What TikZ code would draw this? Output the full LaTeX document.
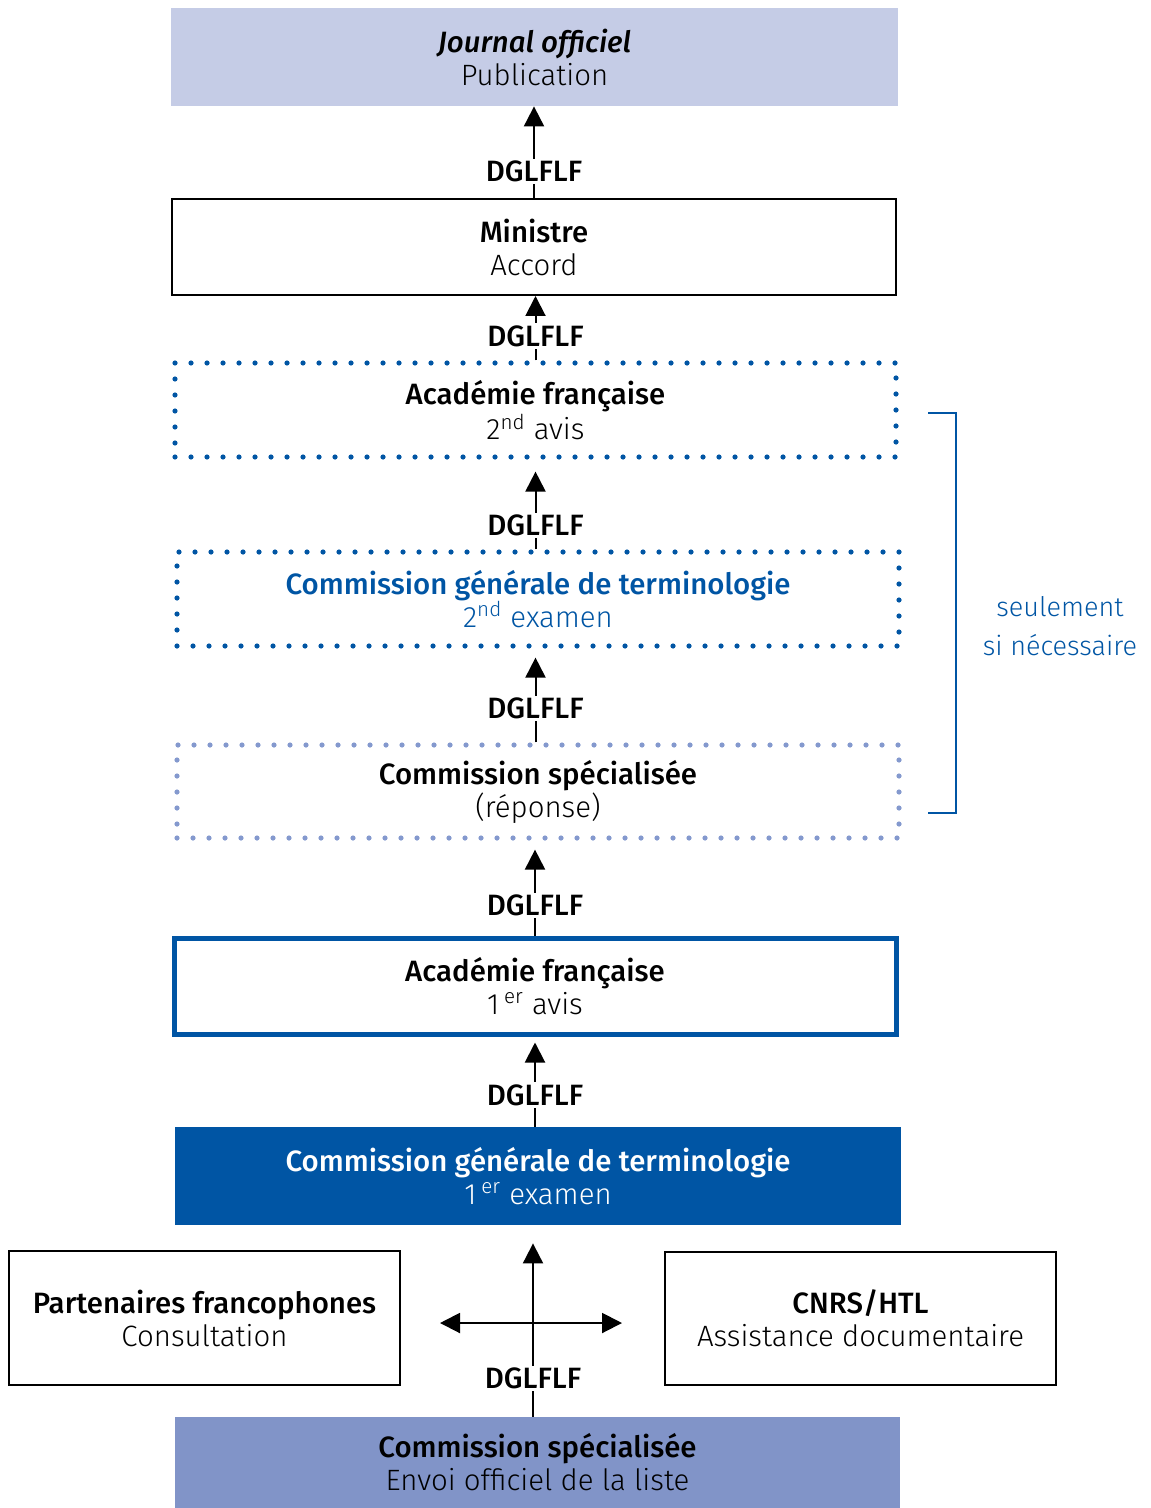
\documentclass[tikz,border=0pt]{standalone}
\usepackage{fontspec}
\setmainfont{Fira Sans Light}[BoldFont={Fira Sans Medium},ItalicFont={Fira Sans Light Italic},BoldItalicFont={Fira Sans Medium Italic}]
\usepackage{tikz}
\usetikzlibrary{arrows.meta}

\definecolor{bleu}{HTML}{0055A4}
\definecolor{lavande}{HTML}{C5CCE6}
\definecolor{mauve}{HTML}{8194C8}
\definecolor{pointille}{HTML}{8499CE}

\tikzset{
	boite/.style={align=center, inner sep=0pt, minimum width=#1, minimum height=48pt, font=\fontsize{14.7}{16.5}\selectfont},
	cadre/.style={draw=black, line width=1pt},
	pointilles/.style={draw=#1, line width=2.6pt, line cap=round, dash pattern=on 0pt off 8pt},
	fleche/.style={line width=1pt, -{Triangle[width=10pt,length=10pt]}},
	etiq/.style={fill=white, inner sep=1pt, font=\fontsize{14.7}{16.5}\selectfont\bfseries}
}

\begin{document}
\begin{tikzpicture}[x=0.5pt, y=-0.5pt]
		\useasboundingbox (0,0) rectangle (1150,1508);
		
		\node[boite=363.5pt, fill=lavande, minimum height=49pt] (jo) at (534.5,57) {\textbf{\textit{Journal officiel}}\\Publication};
		
		\node[boite=362pt, cadre] (min) at (534,247) {\textbf{Ministre}\\Accord};
		\draw[fleche] (min.north) -- node[etiq, pos=0.29]{DGLFLF} (min.north |- jo.south);
		
		\node[boite=360.5pt, minimum height=47pt, pointilles=bleu] (af2) at (535.5,410) {\textbf{Académie française}\\2\textsuperscript{nd} avis};
		\draw[fleche] (af2.north) -- node[etiq, pos=0.38]{DGLFLF} (af2.north |- min.south);
		
		\node[boite=361pt, minimum height=47pt, pointilles=bleu, text=bleu] (cgt2) at (538,599) {\textbf{Commission générale de terminologie}\\2\textsuperscript{nd} examen};
		\draw[fleche, shorten >=6pt] (cgt2.north -| af2) -- node[etiq, pos=0.27]{DGLFLF} (af2.south);
		
		\node[boite=361pt, minimum height=46.5pt, pointilles=pointille] (csr) at (538,791.5) {\textbf{Commission spécialisée}\\(réponse)};
		\draw[fleche, shorten >=4.5pt] (csr.north -| af2) -- node[etiq, pos=0.36]{DGLFLF} (cgt2.south -| af2);
		
		\node[boite=361pt, draw=bleu, line width=2.5pt] (af1) at (535,986) {\textbf{Académie française}\\1\,\textsuperscript{er} avis};
		\draw[fleche, shorten >=4.5pt] (af1.north) -- node[etiq, pos=0.32]{DGLFLF} (af1.north |- csr.south);
		
		\node[boite=363pt, minimum height=49pt, fill=bleu, text=white] (cgt1) at (538,1176) {\textbf{Commission générale de terminologie}\\1\,\textsuperscript{er} examen};
		\draw[fleche, shorten >=3pt] (cgt1.north -| af1) -- node[etiq, pos=0.35]{DGLFLF} (af1.south);
		
		\node[boite=195.5pt, minimum height=67pt, cadre] (part) at (204.5,1318) {\textbf{Partenaires francophones}\\Consultation};
		\node[boite=195.5pt, minimum height=66.5pt, cadre] (cnrs) at (860.5,1318.5) {\textbf{CNRS/HTL}\\Assistance documentaire};
		
		\node[boite=362.5pt, minimum height=45.5pt, fill=mauve] (csp) at (537.5,1462.5) {\textbf{Commission spécialisée}\\Envoi officiel de la liste};
		\draw[fleche, shorten >=9pt] (csp.north -| 533,0) -- node[etiq, pos=0.20]{DGLFLF} (cgt1.south -| 533,0);
		
		\coordinate (gauche) at (440,1323);
		\coordinate (droite) at (622,1323);
		\draw[line width=1pt, {Triangle[width=10pt,length=10pt]}-{Triangle[width=10pt,length=10pt]}] (gauche) -- (droite);
		
		\coordinate (acc1) at (928,413);
		\coordinate (acc2) at (928,813);
		\draw[bleu, line width=1.2pt] (acc1) -| (956,813) -- (acc2);
		\node[align=center, text=bleu, font=\fontsize{13.5}{19.5}\selectfont] (seul) at (1060,626) {seulement\\si nécessaire};
	\end{tikzpicture}
\end{document}
